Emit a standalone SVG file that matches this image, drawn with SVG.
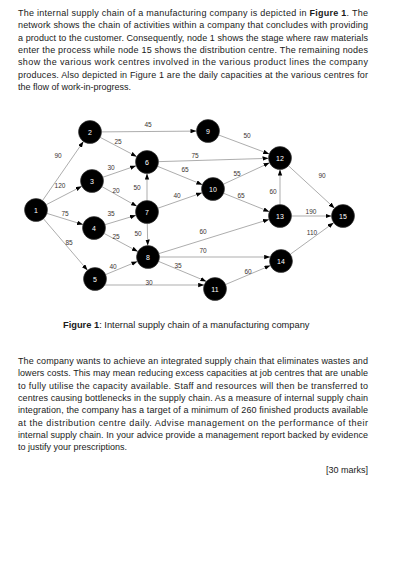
<svg xmlns="http://www.w3.org/2000/svg" width="411" height="576" viewBox="0 0 411 576">
<style>
.t{font-family:"Liberation Sans",Arial,sans-serif;font-size:9px;fill:#1a1a1a}
.b{font-weight:bold}
.cap{font-family:"Liberation Sans",Arial,sans-serif;font-size:9.3px;fill:#1a1a1a}
.e{stroke:#8a8a8a;stroke-width:0.7;fill:none;marker-end:url(#ah)}
.lb{font-family:"Liberation Sans",Arial,sans-serif;font-size:6.5px;fill:#3a3430;text-anchor:middle}
.n circle{fill:#000;stroke:#3a3a3a;stroke-width:0.6}
.n text{font-family:"Liberation Sans",Arial,sans-serif;font-size:7px;fill:#fff;text-anchor:middle}
</style>
<defs>
<marker id="ah" markerUnits="userSpaceOnUse" markerWidth="7" markerHeight="5" refX="6" refY="2.2" orient="auto">
<path d="M0,0 L6,2.2 L0,4.4 z" fill="#000"/>
</marker>
</defs>
<rect width="411" height="576" fill="#fff"/>
<g id="intro">
<text class="t" x="18" y="16" textLength="350" lengthAdjust="spacing">The internal supply chain of a manufacturing company is depicted in <tspan class="b">Figure 1</tspan>. The</text>
<text class="t" x="18" y="28.3" textLength="350" lengthAdjust="spacing">network shows the chain of activities within a company that concludes with providing</text>
<text class="t" x="18" y="40.6" textLength="350" lengthAdjust="spacing">a product to the customer. Consequently, node 1 shows the stage where raw materials</text>
<text class="t" x="18" y="52.9" textLength="350" lengthAdjust="spacing">enter the process while node 15 shows the distribution centre. The remaining nodes</text>
<text class="t" x="18" y="65.2" textLength="350" lengthAdjust="spacing">show the various work centres involved in the various product lines the company</text>
<text class="t" x="18" y="77.5" textLength="350" lengthAdjust="spacing">produces. Also depicted in Figure 1 are the daily capacities at the various centres for</text>
<text class="t" x="18" y="89.8">the flow of work-in-progress.</text>
</g>
<g id="connectors">
<line class="e" x1="42.55" y1="200.54" x2="83.45" y2="141.46"/>
<line class="e" x1="46.21" y1="204.71" x2="81.79" y2="186.29"/>
<line class="e" x1="46.98" y1="213.41" x2="83.02" y2="224.59"/>
<line class="e" x1="43.47" y1="218.74" x2="87.53" y2="270.26"/>
<line class="e" x1="101.5" y1="131.9" x2="196.5" y2="131.1"/>
<line class="e" x1="100.18" y1="137.36" x2="136.82" y2="156.64"/>
<line class="e" x1="102.87" y1="177.25" x2="136.13" y2="165.75"/>
<line class="e" x1="102.02" y1="186.65" x2="136.98" y2="206.35"/>
<line class="e" x1="105.01" y1="224.68" x2="135.99" y2="215.32"/>
<line class="e" x1="104.13" y1="233.44" x2="137.87" y2="251.56"/>
<line class="e" x1="105.62" y1="274.59" x2="137.38" y2="261.41"/>
<line class="e" x1="104.8" y1="285" x2="204.2" y2="285"/>
<line class="e" x1="158.49" y1="161.65" x2="268.51" y2="158.35"/>
<line class="e" x1="157.64" y1="166.35" x2="202.36" y2="184.65"/>
<line class="e" x1="147" y1="200.5" x2="147" y2="173.5"/>
<line class="e" x1="157.86" y1="208.22" x2="202.14" y2="192.78"/>
<line class="e" x1="147.26" y1="223.5" x2="147.74" y2="245.5"/>
<line class="e" x1="158.98" y1="253.59" x2="269.02" y2="219.41"/>
<line class="e" x1="159.5" y1="257" x2="270.2" y2="257"/>
<line class="e" x1="158.6" y1="261.4" x2="206.4" y2="281.4"/>
<line class="e" x1="218.77" y1="135.04" x2="269.23" y2="153.96"/>
<line class="e" x1="223.44" y1="184.17" x2="269.56" y2="162.83"/>
<line class="e" x1="223.67" y1="193.3" x2="269.33" y2="211.7"/>
<line class="e" x1="280" y1="204.5" x2="280" y2="169.5"/>
<line class="e" x1="288.46" y1="165.79" x2="334.54" y2="208.21"/>
<line class="e" x1="291.5" y1="216" x2="331.5" y2="216"/>
<line class="e" x1="290.31" y1="254.25" x2="333.69" y2="222.75"/>
<line class="e" x1="225.59" y1="284.51" x2="270.41" y2="265.49"/>
</g>
<g id="edge-labels">
<text class="lb" x="148" y="127">45</text>
<text class="lb" x="118" y="144">25</text>
<text class="lb" x="58" y="158">90</text>
<text class="lb" x="195" y="158">75</text>
<text class="lb" x="111" y="170">30</text>
<text class="lb" x="185" y="172">65</text>
<text class="lb" x="60" y="188">120</text>
<text class="lb" x="116" y="193">20</text>
<text class="lb" x="137" y="190">50</text>
<text class="lb" x="177" y="198">40</text>
<text class="lb" x="65" y="216">75</text>
<text class="lb" x="111" y="216">35</text>
<text class="lb" x="116" y="239">25</text>
<text class="lb" x="138" y="236">50</text>
<text class="lb" x="69" y="245">85</text>
<text class="lb" x="203" y="234">60</text>
<text class="lb" x="203" y="253">70</text>
<text class="lb" x="113" y="269">40</text>
<text class="lb" x="178" y="268">35</text>
<text class="lb" x="149" y="285">30</text>
<text class="lb" x="247" y="138">50</text>
<text class="lb" x="237" y="176">55</text>
<text class="lb" x="241" y="198">65</text>
<text class="lb" x="273" y="194">60</text>
<text class="lb" x="322" y="178">90</text>
<text class="lb" x="311" y="214">190</text>
<text class="lb" x="312" y="235">110</text>
<text class="lb" x="248" y="274">60</text>
</g>
<g id="node1" class="n"><circle cx="36" cy="210" r="11.5"/><text x="36" y="212.5">1</text></g>
<g id="node2" class="n"><circle cx="90" cy="132" r="11.5"/><text x="90" y="134.5">2</text></g>
<g id="node3" class="n"><circle cx="92" cy="181" r="11.5"/><text x="92" y="183.5">3</text></g>
<g id="node4" class="n"><circle cx="94" cy="228" r="11.5"/><text x="94" y="230.5">4</text></g>
<g id="node5" class="n"><circle cx="95" cy="279" r="11.5"/><text x="95" y="281.5">5</text></g>
<g id="node6" class="n"><circle cx="147" cy="162" r="11.5"/><text x="147" y="164.5">6</text></g>
<g id="node7" class="n"><circle cx="147" cy="212" r="11.5"/><text x="147" y="214.5">7</text></g>
<g id="node8" class="n"><circle cx="148" cy="257" r="11.5"/><text x="148" y="259.5">8</text></g>
<g id="node9" class="n"><circle cx="208" cy="131" r="11.5"/><text x="208" y="133.5">9</text></g>
<g id="node10" class="n"><circle cx="213" cy="189" r="11.5"/><text x="213" y="191.5">10</text></g>
<g id="node11" class="n"><circle cx="215" cy="289" r="11.5"/><text x="215" y="291.5">11</text></g>
<g id="node12" class="n"><circle cx="280" cy="158" r="11.5"/><text x="280" y="160.5">12</text></g>
<g id="node13" class="n"><circle cx="280" cy="216" r="11.5"/><text x="280" y="218.5">13</text></g>
<g id="node14" class="n"><circle cx="281" cy="261" r="11.5"/><text x="281" y="263.5">14</text></g>
<g id="node15" class="n"><circle cx="343" cy="216" r="11.5"/><text x="343" y="218.5">15</text></g>
<g id="caption">
<text class="cap" x="63" y="327.5"><tspan class="b">Figure 1</tspan>: Internal supply chain of a manufacturing company</text>
</g>
<g id="body">
<text class="t" x="18" y="364" textLength="350" lengthAdjust="spacing">The company wants to achieve an integrated supply chain that eliminates wastes and</text>
<text class="t" x="18" y="376.3" textLength="350" lengthAdjust="spacing">lowers costs. This may mean reducing excess capacities at job centres that are unable</text>
<text class="t" x="18" y="388.6" textLength="350" lengthAdjust="spacing">to fully utilise the capacity available. Staff and resources will then be transferred to</text>
<text class="t" x="18" y="400.9" textLength="350" lengthAdjust="spacing">centres causing bottlenecks in the supply chain. As a measure of internal supply chain</text>
<text class="t" x="18" y="413.2" textLength="350" lengthAdjust="spacing">integration, the company has a target of a minimum of 260 finished products available</text>
<text class="t" x="18" y="425.5" textLength="350" lengthAdjust="spacing">at the distribution centre daily. Advise management on the performance of their</text>
<text class="t" x="18" y="437.8" textLength="350" lengthAdjust="spacing">internal supply chain. In your advice provide a management report backed by evidence</text>
<text class="t" x="18" y="450.1">to justify your prescriptions.</text>
<text class="t" x="368" y="472.5" text-anchor="end">[30 marks]</text>
</g>
</svg>
